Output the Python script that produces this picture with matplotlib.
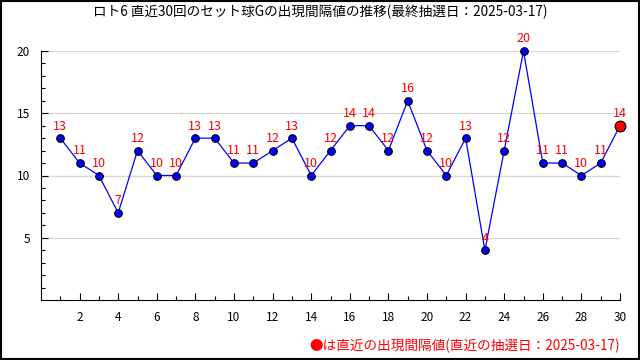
import matplotlib.pyplot as plt
from matplotlib.patches import Rectangle

plt.rcParams['font.family'] = ['Noto Sans CJK JP', 'DejaVu Sans']

draws = list(range(1, 31))
intervals = [13, 11, 10, 7, 12, 10, 10, 13, 13, 11, 11, 12, 13, 10, 12,
             14, 14, 12, 16, 12, 10, 13, 4, 12, 20, 11, 11, 10, 11, 14]
title = "ロト6 直近30回のセット球Gの出現間隔値の推移(最終抽選日：2025-03-17)"
note = "●は直近の出現間隔値(直近の抽選日：2025-03-17)"

fig = plt.figure(figsize=(6.4, 3.6), dpi=100)
ax = fig.add_axes([41 / 640, 60 / 360, 579 / 640, 249 / 360])

for y in [5, 10, 15, 20]:
    ax.axhline(y, color="#d8d8d8", lw=1, zorder=0)

ax.plot(draws, intervals, color="blue", lw=0.9, zorder=2, clip_on=False)
ax.scatter(draws[:-1], intervals[:-1], s=30, color="blue", edgecolor="black",
           lw=0.8, zorder=3, clip_on=False)
ax.scatter(draws[-1:], intervals[-1:], s=60, color="red", edgecolor="black",
           lw=0.8, zorder=4, clip_on=False)
for x, v in zip(draws, intervals):
    ax.annotate(str(v), (x, v), xytext=(0, 4), textcoords="offset points",
                ha="center", va="bottom", color="red", fontsize=9)

ax.set_xlim(0, 30)
ax.set_ylim(0, 20)
ax.set_xticks(range(2, 31, 2))
ax.set_xticks(range(1, 31), minor=True)
ax.set_yticks([5, 10, 15, 20])
ax.set_yticks(range(1, 21), minor=True)
ax.tick_params(direction="in", length=5, width=0.8, labelsize=8.5, pad=8)
ax.tick_params(which="minor", direction="in", length=3, width=0.8)
for s in ["top", "right"]:
    ax.spines[s].set_visible(False)

fig.text(0.5, 1 - 12 / 360, title, ha="center", va="center", fontsize=9.8)
fig.text(620 / 640, 1 - 346 / 360, note, ha="right", va="center",
         fontsize=9.8, color="red")
fig.patches.append(Rectangle((0.001, 0.002), 0.997, 0.996, transform=fig.transFigure,
                             fill=False, edgecolor="black", lw=1.5))

fig.savefig("out.png", dpi=100)
